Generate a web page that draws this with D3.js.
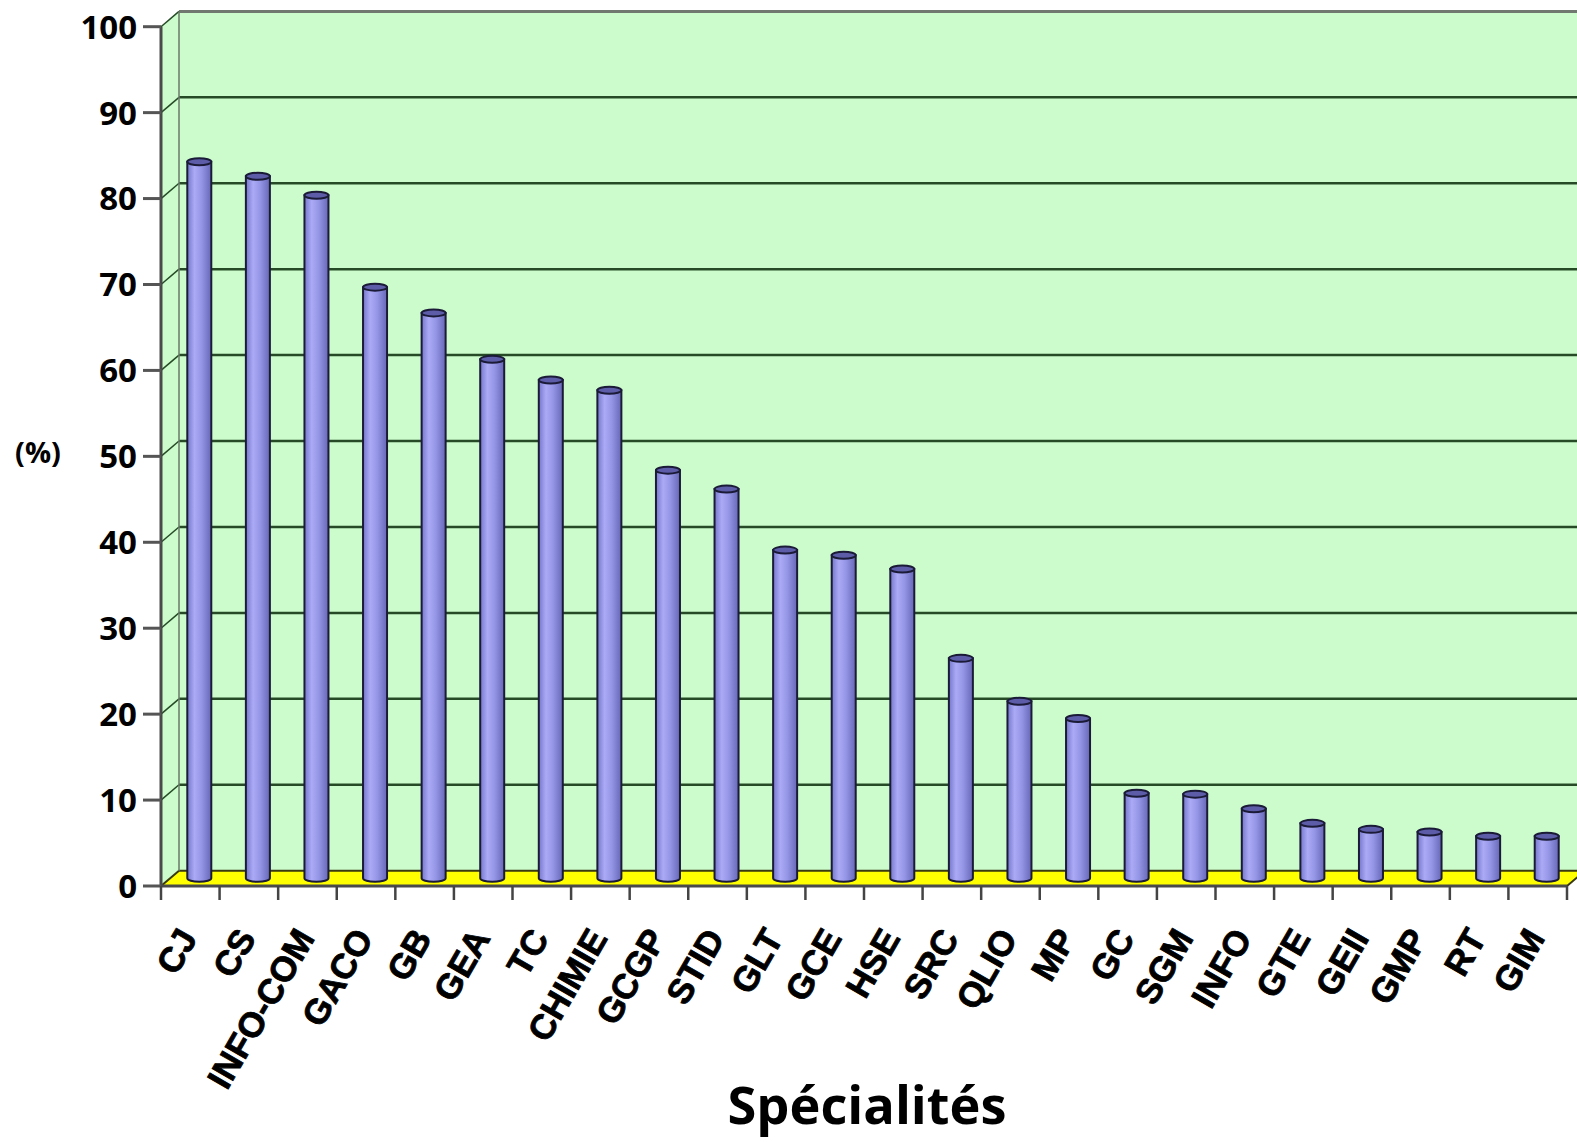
<!DOCTYPE html>
<html>
<head>
<meta charset="utf-8">
<script src="https://cdn.jsdelivr.net/npm/d3@7"></script>
<style>
  body { margin: 0; background: #fff; }
  svg { display: block; }
</style>
</head>
<body>
<svg id="chart" width="1577" height="1142"></svg>
<script>
// specialites and their percentages
const categories = ["CJ", "CS", "INFO-COM", "GACO", "GB", "GEA", "TC", "CHIMIE", "GCGP", "STID",
  "GLT", "GCE", "HSE", "SRC", "QLIO", "MP", "GC", "SGM", "INFO", "GTE", "GEII", "GMP", "RT", "GIM"];
const values = [83.4, 81.7, 79.5, 68.8, 65.8, 60.4, 58.0, 56.8, 47.5, 45.3,
  38.2, 37.6, 36.0, 25.6, 20.6, 18.6, 9.9, 9.8, 8.1, 6.4, 5.7, 5.4, 4.9, 4.9];
const yTicks = [0, 10, 20, 30, 40, 50, 60, 70, 80, 90, 100];

const svg = d3.select("#chart");

// 3d depth offset of the back wall
const dx = 18, dy = -15.3;
const x = d3.scaleBand().domain(categories).range([161, 1567]);
const y = d3.scaleLinear().domain([0, 100]).range([886, 26.7]);
const xl = 161, xr = 1567;

const defs = svg.append("defs");
const grad = defs.append("linearGradient").attr("id", "cyl");
grad.append("stop").attr("offset", "0%").attr("stop-color", "#7777cc");
grad.append("stop").attr("offset", "30%").attr("stop-color", "#aaaaf6");
grad.append("stop").attr("offset", "60%").attr("stop-color", "#9595e6");
grad.append("stop").attr("offset", "100%").attr("stop-color", "#6767b8");

const green = "#ccfccc", gridCol = "#264a26";

// back wall
svg.append("rect")
  .attr("x", xl + dx).attr("y", y(100) + dy)
  .attr("width", 1600 - xl - dx).attr("height", y(0) - y(100))
  .attr("fill", green);
// side wall
svg.append("path")
  .attr("d", `M${xl},${y(0)}L${xl},${y(100)}L${xl + dx},${y(100) + dy}L${xl + dx},${y(0) + dy}Z`)
  .attr("fill", green);
// floor
svg.append("path")
  .attr("d", `M${xl},${y(0)}L${xr},${y(0)}L${xr + dx},${y(0) + dy}L${xl + dx},${y(0) + dy}Z`)
  .attr("fill", "#ffff00").attr("stroke", "#3a3a10").attr("stroke-width", 2);

// grid lines on back and side walls
yTicks.filter(t => t > 0).forEach(t => {
  svg.append("line")
    .attr("x1", xl + dx).attr("x2", 1600)
    .attr("y1", y(t) + dy).attr("y2", y(t) + dy)
    .attr("stroke", t === 100 ? "#707870" : gridCol).attr("stroke-width", t === 100 ? 3 : 2.5);
  svg.append("line")
    .attr("x1", xl).attr("x2", xl + dx)
    .attr("y1", y(t)).attr("y2", y(t) + dy)
    .attr("stroke", gridCol).attr("stroke-width", 1.5);
});
svg.append("line")
  .attr("x1", xl + dx).attr("x2", xl + dx)
  .attr("y1", y(100) + dy).attr("y2", y(0) + dy)
  .attr("stroke", "#6a7a6a").attr("stroke-width", 1.5);

// cylinders
const bw = 24, ry = 3.5;
const bars = svg.append("g").selectAll("g")
  .data(categories.map((c, i) => ({ c: c, v: values[i] })))
  .enter().append("g");
const cx = d => x(d.c) + x.bandwidth() / 2 + dx / 2;
const base = y(0) + dy / 2;
const barTop = d => y(d.v) + dy / 2;
bars.append("path")
  .attr("d", d => `M${cx(d) - bw / 2},${barTop(d)}L${cx(d) - bw / 2},${base}` +
    `A${bw / 2},${ry} 0 0 0 ${cx(d) + bw / 2},${base}L${cx(d) + bw / 2},${barTop(d)}Z`)
  .attr("fill", "url(#cyl)").attr("stroke", "#1b1b38").attr("stroke-width", 2);
bars.append("ellipse")
  .attr("cx", cx).attr("cy", barTop)
  .attr("rx", bw / 2).attr("ry", ry)
  .attr("fill", "#5c5ca8").attr("stroke", "#1b1b38").attr("stroke-width", 2);

// front axes
svg.append("line")
  .attr("x1", xl).attr("x2", xl).attr("y1", y(100)).attr("y2", y(0))
  .attr("stroke", "#4a4a4a").attr("stroke-width", 3);
svg.append("line")
  .attr("x1", xl).attr("x2", xr).attr("y1", y(0)).attr("y2", y(0))
  .attr("stroke", "#4a4a4a").attr("stroke-width", 3);

yTicks.forEach(t => {
  svg.append("line")
    .attr("x1", 143).attr("x2", xl).attr("y1", y(t)).attr("y2", y(t))
    .attr("stroke", "#555").attr("stroke-width", 3);
  svg.append("text")
    .attr("x", 137).attr("y", y(t)).attr("dy", "0.36em")
    .attr("text-anchor", "end")
    .style("font-family", "'Open Sans', sans-serif").style("font-weight", "bold")
    .style("font-size", "33px").text(t);
});

const bounds = categories.map(c => x(c)).concat([xr]);
bounds.forEach(b => {
  svg.append("line")
    .attr("x1", b).attr("x2", b).attr("y1", y(0)).attr("y2", y(0) + 14)
    .attr("stroke", "#444").attr("stroke-width", 2.5);
});

categories.forEach(c => {
  const px = x(c) + x.bandwidth() / 2 + 8, py = 938;
  svg.append("text")
    .attr("transform", `translate(${px},${py}) rotate(-60)`)
    .attr("text-anchor", "end")
    .attr("stroke", "#000").attr("stroke-width", 0.8)
    .style("font-family", "'Liberation Sans', Arial, Helvetica, sans-serif").style("font-weight", "bold")
    .style("font-size", "35px").text(c);
});

svg.append("text")
  .attr("x", 38).attr("y", 453).attr("dy", "0.36em").attr("text-anchor", "middle")
  .style("font-family", "'Open Sans', sans-serif").style("font-weight", "bold")
  .style("font-size", "29px").text("(%)");

svg.append("text")
  .attr("x", 867).attr("y", 1124).attr("text-anchor", "middle")
  .attr("textLength", 279).attr("lengthAdjust", "spacingAndGlyphs")
  .style("font-family", "'Open Sans', sans-serif").style("font-weight", "bold")
  .style("font-size", "52px").text("Spécialités");
</script>
</body>
</html>
